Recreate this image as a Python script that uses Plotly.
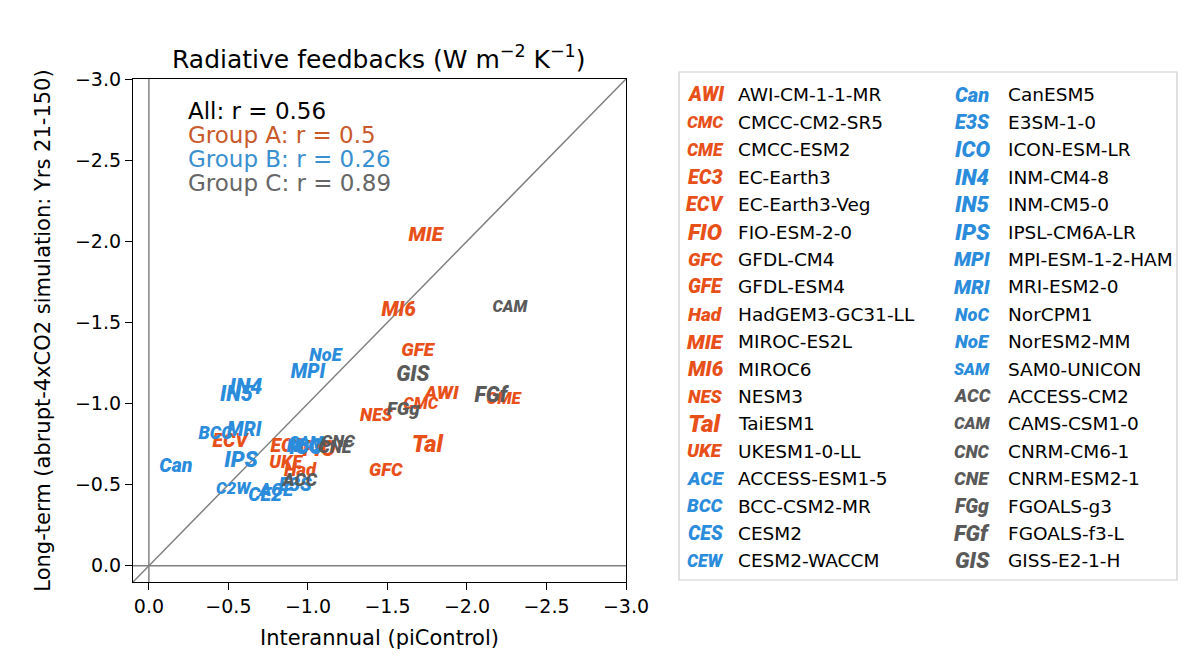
import plotly.graph_objects as go

# ---------------- data ----------------
abbr = ["AWI", "CMC", "CME", "EC3", "ECV", "FIO", "GFC", "GFE", "Had", "MIE", "MI6", "NES", "Tal", "UKE",
        "ACE", "BCC", "CES", "CEW", "Can", "E3S", "ICO", "IN4", "IN5", "IPS", "MPI", "MRI", "NoC", "NoE", "SAM",
        "ACC", "CAM", "CNC", "CNE", "FGg", "FGf", "GIS"]
plot_label = ["AWI", "CMC", "CME", "EC3", "ECV", "FIO", "GFC", "GFE", "Had", "MIE", "MI6", "NES", "Tal", "UKE",
              "ACE", "BCC", "CE2", "C2W", "Can", "E3S", "ICO", "IN4", "IN5", "IPS", "MPI", "MRI", "NoC", "NoE", "SAM",
              "ACC", "CAM", "CNC", "CNE", "FGg", "FGf", "GIS"]
names = ["AWI-CM-1-1-MR", "CMCC-CM2-SR5", "CMCC-ESM2", "EC-Earth3", "EC-Earth3-Veg", "FIO-ESM-2-0",
         "GFDL-CM4", "GFDL-ESM4", "HadGEM3-GC31-LL", "MIROC-ES2L", "MIROC6", "NESM3", "TaiESM1", "UKESM1-0-LL",
         "ACCESS-ESM1-5", "BCC-CSM2-MR", "CESM2", "CESM2-WACCM", "CanESM5", "E3SM-1-0", "ICON-ESM-LR",
         "INM-CM4-8", "INM-CM5-0", "IPSL-CM6A-LR", "MPI-ESM-1-2-HAM", "MRI-ESM2-0", "NorCPM1", "NorESM2-MM",
         "SAM0-UNICON", "ACCESS-CM2", "CAMS-CSM1-0", "CNRM-CM6-1", "CNRM-ESM2-1", "FGOALS-g3", "FGOALS-f3-L",
         "GISS-E2-1-H"]
group = ["A"] * 14 + ["B"] * 15 + ["C"] * 7

# Interannual (piControl) feedback
x_inter = [-1.84, -1.71, -2.23, -0.87, -0.51, -1.07, -1.49, -1.69, -0.95, -1.74, -1.57, -1.43, -1.75, -0.86,
           -0.80, -0.42, -0.73, -0.53, -0.17, -0.92, -0.99, -0.61, -0.55, -0.58, -1.00, -0.60, -0.97, -1.11, -0.99,
           -0.95, -2.27, -1.19, -1.17, -1.60, -2.15, -1.66]
# Long-term (abrupt-4xCO2, yrs 21-150) feedback
y_long = [-1.06, -0.99, -1.02, -0.73, -0.76, -0.71, -0.58, -1.32, -0.58, -2.03, -1.57, -0.92, -0.74, -0.63,
          -0.46, -0.81, -0.43, -0.47, -0.61, -0.49, -0.72, -1.09, -1.05, -0.64, -1.19, -0.83, -0.73, -1.29, -0.75,
          -0.52, -1.59, -0.76, -0.72, -0.96, -1.04, -1.17]

stats = [("All: r = 0.56", "all"), ("Group A: r = 0.5", "A"), ("Group B: r = 0.26", "B"), ("Group C: r = 0.89", "C")]
tick_vals = [0, -0.5, -1, -1.5, -2, -2.5, -3]
tick_text = ["0.0", "\u22120.5", "\u22121.0", "\u22121.5", "\u22122.0", "\u22122.5", "\u22123.0"]

# ---------------- styles ----------------
col = {"A": "#E8501A", "B": "#2A8CDB", "C": "#5A5A5A"}
stat_col = {"all": "#000000", "A": "#C95A2C", "B": "#3A8FD0", "C": "#666666"}

# approximate Roboto Bold Italic advance widths (em/1000)
cw = {"A": 640, "B": 620, "C": 600, "E": 550, "F": 540, "G": 660, "H": 700, "I": 280, "K": 620, "L": 530,
      "M": 800, "N": 700, "O": 670, "P": 620, "R": 620, "S": 600, "T": 600, "U": 640, "W": 800, "a": 540,
      "c": 510, "d": 550, "f": 350, "g": 550, "l": 250, "n": 550, "o": 560}


def tsize(s, target=34.0):
    w = sum(cw.get(ch, 560) for ch in s) / 1000.0
    return min(target / w, 26)


FONT = "DejaVu Sans"
MFONT = "Roboto"
fig = go.Figure()

for xs, ys in (([0.1, -3.0], [0.1, -3.0]), ([0.1, -3.0], [0, 0]), ([0, 0], [0.1, -3.0])):
    fig.add_trace(go.Scatter(x=xs, y=ys, mode="lines", line=dict(color="#808080", width=1.5),
                             hoverinfo="skip", showlegend=False))

fig.add_trace(go.Scatter(
    x=x_inter, y=y_long, mode="text", text=plot_label, textposition="middle center",
    textfont=dict(family=MFONT, size=[tsize(s, 33) for s in plot_label], color=[col[g] for g in group],
                  weight=900, style="italic"),
    hovertext=names, showlegend=False))

axis_common = dict(range=[0.1, -3.0], tickvals=tick_vals, ticktext=tick_text, showgrid=False, zeroline=False,
                   showline=True, linecolor="black", linewidth=1.2, mirror=True, ticks="outside", ticklen=7,
                   tickcolor="black", tickfont=dict(family=FONT, size=19, color="black"))
fig.update_xaxes(**axis_common,
                 title=dict(text="Interannual (piControl)", font=dict(family=FONT, size=21, color="black"),
                            standoff=14))
fig.update_yaxes(**axis_common,
                 title=dict(text="Long-term (abrupt-4xCO2 simulation: Yrs 21-150)",
                            font=dict(family=FONT, size=21, color="black"), standoff=18))

# page offset (body margin) and plot area in screenshot pixels
OFF = 8
L, R, T, B = 133, 626, 79, 582
W, H = R - L, B - T


def px(xp):
    return (xp - L) / W


def py(yp):
    return (B - yp) / H


annotations = []
annotations.append(dict(text="Radiative feedbacks (W m<sup>\u22122</sup> K<sup>\u22121</sup>)",
                        xref="paper", yref="paper", x=px(378), y=py(57), showarrow=False,
                        xanchor="center", yanchor="middle", font=dict(family=FONT, size=25, color="black")))
for i, (t, g) in enumerate(stats):
    annotations.append(dict(text=t, xref="paper", yref="paper", x=px(186), y=py(111 + 24 * i),
                            showarrow=False, xanchor="left", yanchor="middle",
                            font=dict(family=FONT, size=23, color=stat_col[g])))

shapes = [dict(type="rect", xref="paper", yref="paper", x0=px(679), x1=px(1177), y0=py(580), y1=py(72),
               line=dict(color="#CCCCCC", width=1.2), fillcolor="white", layer="below")]
nrows = 18
for i, (a, n, g) in enumerate(zip(abbr, names, group)):
    c, r = divmod(i, nrows)
    yy = 95 + r * 27.4
    mx = 705 if c == 0 else 972
    tx = 736 if c == 0 else 1006
    annotations.append(dict(text=a, xref="paper", yref="paper", x=px(mx), y=py(yy), showarrow=False,
                            xanchor="center", yanchor="middle",
                            font=dict(family=MFONT, size=tsize(a, 34), color=col[g], weight=900,
                                      style="italic")))
    annotations.append(dict(text=n, xref="paper", yref="paper", x=px(tx), y=py(yy), showarrow=False,
                            xanchor="left", yanchor="middle", font=dict(family=FONT, size=18.5, color="black")))

fig.update_layout(width=1195, height=656,
                  margin=dict(l=L - OFF, r=1195 - (R - OFF), t=T - OFF, b=656 - (B - OFF), autoexpand=False),
                  plot_bgcolor="white", paper_bgcolor="white", annotations=annotations, shapes=shapes,
                  showlegend=False)
fig.write_html("out.html")
